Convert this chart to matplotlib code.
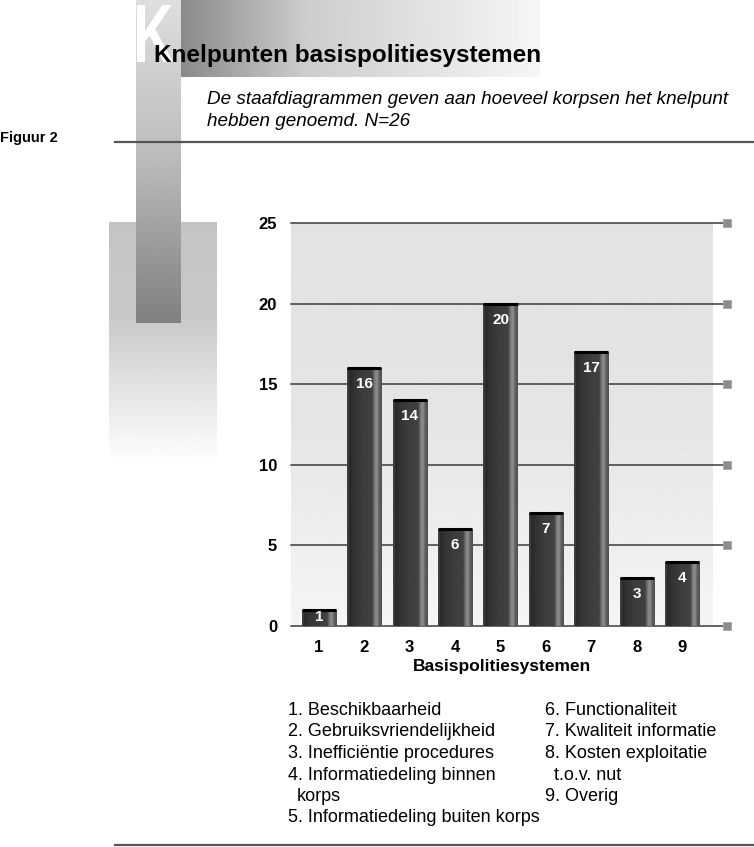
import numpy as np
import matplotlib
matplotlib.use("Agg")
import matplotlib.pyplot as plt
from matplotlib.textpath import TextPath
from matplotlib.patches import PathPatch
from matplotlib.font_manager import FontProperties
from matplotlib.transforms import Affine2D

plt.rcParams['font.family'] = ['Liberation Sans', 'DejaVu Sans']

# === Data ===
categories = [1, 2, 3, 4, 5, 6, 7, 8, 9]
values = [1, 16, 14, 6, 20, 7, 17, 3, 4]
yticks = [0, 5, 10, 15, 20, 25]
legend_left = ["1. Beschikbaarheid", "2. Gebruiksvriendelijkheid",
               "3. Inefficiëntie procedures", "4. Informatiedeling binnen\nkorps",
               "5. Informatiedeling buiten korps"]
legend_right = ["6. Functionaliteit", "7. Kwaliteit informatie",
                "8. Kosten exploitatie\nt.o.v. nut", "9. Overig"]

W, H = 754, 847
fig = plt.figure(figsize=(W / 100, H / 100), dpi=100)

# === Decoration layer in pixel coordinates ===
bg = fig.add_axes([0, 0, 1, 1], zorder=0)
bg.set_xlim(0, W)
bg.set_ylim(H, 0)
bg.axis('off')


def vgrad(x0, x1, y0, y1, ys, levels):
    yy = np.linspace(y0, y1, 200)
    col = np.interp(yy, ys, levels)[:, None] / 255.0
    bg.imshow(col, extent=(x0, x1, y1, y0), cmap='gray', vmin=0, vmax=1,
              aspect='auto', interpolation='bilinear', zorder=1)


# header band, horizontal fade
xx = np.linspace(0, 1, 300)
band = np.interp(xx, [0, 0.35, 1], [138, 205, 246])[None, :] / 255.0
bg.imshow(band, extent=(181, 540, 77, 0), cmap='gray', vmin=0, vmax=1,
          aspect='auto', interpolation='bilinear', zorder=1)
# wide box, then vertical column over it
vgrad(109, 217, 222, 457, [222, 315, 457], [196, 200, 252])
vgrad(136, 181, 0, 323, [0, 150, 323], [222, 190, 128])

# big white K
tp = TextPath((0, 0), "K", size=1, prop=FontProperties(family='Liberation Sans', weight='bold'))
ext = tp.get_extents()
tr = (Affine2D().translate(-ext.x0, -ext.y0)
      .scale(36 / ext.width, -57 / ext.height).translate(137, 62))
bg.add_patch(PathPatch(tr.transform_path(tp), facecolor='white', edgecolor='none', zorder=2))

bg.text(154, 62, "Knelpunten basispolitiesystemen", fontsize=17.5, fontweight='bold',
        va='baseline', zorder=3)
bg.text(207, 104, "De staafdiagrammen geven aan hoeveel korpsen het knelpunt",
        fontsize=13.6, fontstyle='italic', va='baseline', zorder=3)
bg.text(207, 126, "hebben genoemd. N=26", fontsize=13.6, fontstyle='italic',
        va='baseline', zorder=3)
bg.text(0, 142, "Figuur 2", fontsize=10.5, fontweight='bold', va='baseline', zorder=3)
bg.plot([115, W], [142, 142], color='#555555', lw=1.6, zorder=3)
bg.plot([115, W], [845, 845], color='#555555', lw=1.6, zorder=3)

# legend text
for col_x, items in [(288, legend_left), (545, legend_right)]:
    y = 715
    for item in items:
        for i, line in enumerate(item.split("\n")):
            bg.text(col_x + (9 if i else 0), y, line, fontsize=13, va='baseline', zorder=3)
            y += 21.5

# === Bar chart ===
ax = fig.add_axes([291 / W, (H - 626) / H, (713 - 291) / W, (626 - 223) / H], zorder=1)
xlim = (0.383, 9.683)
ylim = (0, 25)

yy = np.linspace(0, 1, 200)
bgcol = np.interp(yy, [0, 0.5, 1], [226, 229, 245])[:, None] / 255.0
ax.imshow(bgcol, extent=(xlim[0], xlim[1], ylim[0], ylim[1]), origin='upper', cmap='gray',
          vmin=0, vmax=1, aspect='auto', interpolation='bilinear', zorder=0)

ytr = ax.get_yaxis_transform()
for yv in yticks:
    ax.plot([0, 1.0237], [yv, yv], transform=ytr, color='#3a3a3a', lw=1.1,
            clip_on=False, zorder=1)
    ax.plot([1.034], [yv], transform=ytr, marker='s', ms=5.5, color='#8c8c8c',
            mec='#a5a5a5', mew=0.6, clip_on=False, zorder=1)

bars = ax.bar(categories, values, width=0.75, color='#3a3a3a', zorder=2)
gx = np.linspace(0, 1, 100)
shade = np.interp(gx, [0, 0.08, 0.2, 0.45, 0.72, 0.8, 0.86, 0.93, 1.0],
                  [0.28, 0.16, 0.2, 0.24, 0.25, 0.5, 0.56, 0.36, 0.32])[None, :]
for b, v in zip(bars, values):
    x0, w = b.get_x(), b.get_width()
    im = ax.imshow(shade, extent=(x0, x0 + w, 0, v), cmap='gray', vmin=0, vmax=1,
                   aspect='auto', interpolation='bilinear', zorder=2.5)
    im.set_clip_path(b)
    ax.plot([x0, x0 + w], [v, v], color='black', lw=2.2, solid_capstyle='butt', zorder=3)
    ly = v - 1.0 if v > 2 else v / 2 + 0.05
    ax.text(b.get_x() + w / 2, ly, str(v), color='white', fontsize=11,
            fontweight='bold', ha='center', va='center', zorder=4)

ax.set_xlim(*xlim)
ax.set_ylim(*ylim)
ax.set_xticks(categories)
ax.set_xticklabels([str(c) for c in categories], fontsize=12, fontweight='bold')
ax.set_yticks(yticks)
ax.set_yticklabels([str(t) for t in yticks], fontsize=12, fontweight='bold')
ax.tick_params(length=0)
ax.tick_params(axis='x', pad=10)
ax.tick_params(axis='y', pad=10)
ax.set_xlabel("Basispolitiesystemen", fontsize=12.5, fontweight='bold', labelpad=3)
for s in ax.spines.values():
    s.set_visible(False)

fig.savefig("out.png", dpi=100)
